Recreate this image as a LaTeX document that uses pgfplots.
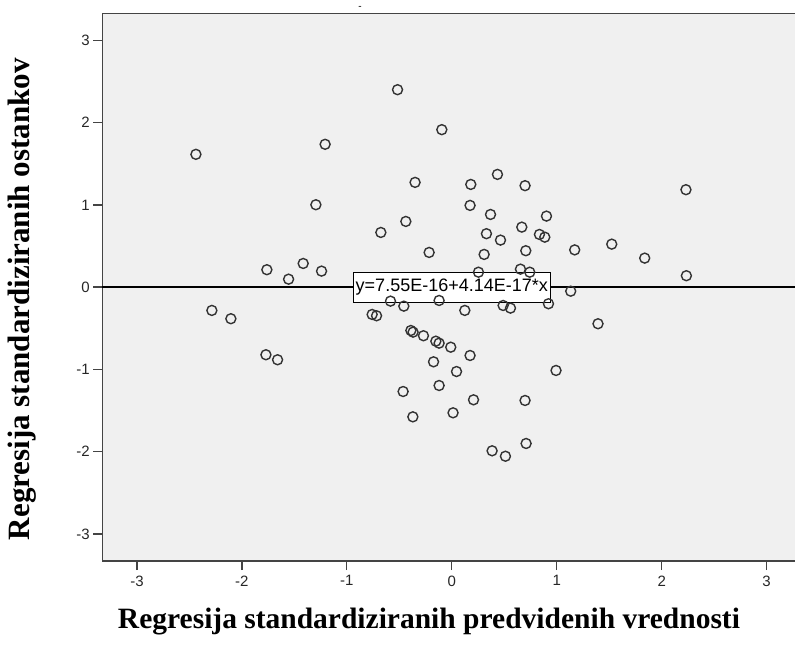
\documentclass[border=0pt]{standalone}
\usepackage{fontspec}
\setmainfont{Liberation Serif}
\newfontfamily\arial{Liberation Sans}
\usepackage{pgfplots}
\pgfplotsset{compat=1.18}
\definecolor{bgc}{HTML}{F0F0F0}
\definecolor{framec}{HTML}{444444}
\definecolor{markc}{HTML}{333333}
\begin{document}
\begin{tikzpicture}[x=1pt,y=1pt]
\useasboundingbox (-102.3,-87) rectangle (692.7,561);
\begin{axis}[
  at={(0,0)}, anchor=south west,
  scale only axis, width=692.7pt, height=547.7pt,
  xmin=-3.33, xmax=3.27, ymin=-3.33, ymax=3.33,
  clip=false,
  axis background/.style={fill=bgc},
  axis x line*=bottom, axis y line*=left,
  axis line style={framec, line width=1.3pt, -},
  xtick={-3,-2,-1,0,1,2,3}, ytick={-3,-2,-1,0,1,2,3},
  tick align=outside, tick style={framec, line width=1.3pt},
  major tick length=9pt,
  ticklabel style={font=\arial\fontsize{15}{17}\selectfont, text=black!85},
  xticklabel style={yshift=-2pt},
  /pgf/number format/assume math mode=true,
  xlabel={Regresija standardiziranih predvidenih vrednosti},
  ylabel={Regresija standardiziranih ostankov},
  every axis x label/.style={at={(axis description cs:0.4716,-0.1114)}, anchor=center, font=\bfseries\fontsize{29.5}{32}\selectfont},
  every axis y label/.style={at={(axis description cs:-0.1155,0.478)}, anchor=center, rotate=90, font=\bfseries\fontsize{31}{33}\selectfont},
]
\draw[framec, line width=1.3pt] (rel axis cs:0,1) -- (rel axis cs:1,1);
\node[font=\arial\fontsize{10}{10}\selectfont, inner sep=0pt, anchor=base] at ([yshift=4pt]rel axis cs:0.372,1) {-};
\addplot[black, line width=1.4pt] coordinates {(-3.33,0) (3.27,0)};
\addplot[only marks, mark=o, mark size=5pt, mark options={draw=markc, line width=1.4pt}] table {
x y
-2.438 1.615
-1.207 1.737
-1.295 1.002
-0.517 2.401
-0.095 1.915
-0.350 1.274
0.181 1.249
0.435 1.371
0.698 1.234
2.231 1.185
-1.762 0.212
-1.555 0.097
-1.416 0.288
-1.241 0.195
-2.286 -0.283
-2.105 -0.384
-1.771 -0.822
-1.660 -0.883
0.174 0.994
0.369 0.884
0.902 0.864
-0.438 0.799
-0.676 0.665
0.667 0.730
0.330 0.650
0.835 0.641
0.886 0.608
0.464 0.572
-0.216 0.422
0.705 0.443
0.308 0.398
1.171 0.453
0.254 0.182
0.654 0.219
0.743 0.182
1.133 -0.049
-0.584 -0.170
-0.457 -0.231
-0.121 -0.162
0.124 -0.283
0.489 -0.223
0.559 -0.255
0.921 -0.202
-0.759 -0.332
-0.717 -0.348
-0.390 -0.527
-0.369 -0.547
-0.270 -0.591
-0.152 -0.657
-0.121 -0.681
-0.010 -0.730
0.174 -0.831
-0.174 -0.908
0.045 -1.026
0.993 -1.013
1.393 -0.445
1.524 0.523
1.838 0.353
2.235 0.139
-0.464 -1.269
-0.121 -1.196
0.207 -1.370
0.698 -1.378
-0.371 -1.577
0.012 -1.528
0.384 -1.990
0.511 -2.056
0.708 -1.901
};
\node[draw=black, fill=white, line width=1.1pt, font=\arial\fontsize{18}{20}\selectfont, inner xsep=2.5pt, inner ysep=0pt, minimum height=30pt] at (axis cs:0,0) {y=7.55E-16+4.14E-17*x};
\end{axis}
\end{tikzpicture}
\end{document}
